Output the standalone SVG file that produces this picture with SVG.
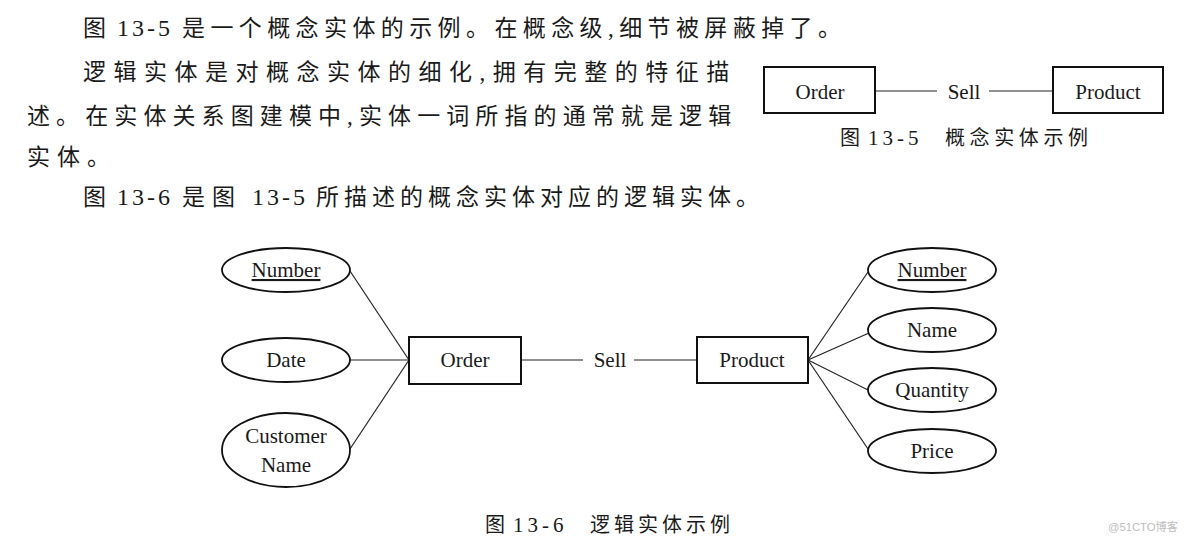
<svg xmlns="http://www.w3.org/2000/svg" width="1184" height="539" viewBox="0 0 1184 539">
<style>
.body{font-family:"Liberation Serif","Noto Sans CJK SC",serif;font-size:23px;fill:#1a1a1a}
.num{font-family:"Liberation Serif",serif;font-size:24px;letter-spacing:3px}
.cap{font-family:"Liberation Serif","Noto Sans CJK SC",serif;font-size:20px;fill:#1a1a1a}
.cnum{font-family:"Liberation Serif",serif;font-size:21px;letter-spacing:4px}
.lbl{font-family:"Liberation Serif","Noto Sans CJK SC",serif;font-size:21px;fill:#1a1a1a;text-anchor:middle}
.box{fill:#fff;stroke:#111;stroke-width:2}
.ell{fill:#fff;stroke:#111;stroke-width:1.8}
.ln{stroke:#222;stroke-width:1.2;fill:none}
.wm{font-family:"Liberation Sans","Noto Sans CJK SC",sans-serif;font-size:11px;fill:#bdbdbd}
</style>
<rect width="1184" height="539" fill="#fff"/>
<g id="body-text">
<text class="body" y="36"><tspan x="83">图</tspan><tspan class="num" x="117">13-5</tspan><tspan x="182" letter-spacing="5.4">是一个概念实体的示例。在概念级,细节被屏蔽掉了。</tspan></text>
<text class="body" x="83" y="80" letter-spacing="7.5">逻辑实体是对概念实体的细化,拥有完整的特征描</text>
<text class="body" x="27" y="124" letter-spacing="6.1">述。在实体关系图建模中,实体一词所指的通常就是逻辑</text>
<text class="body" x="27" y="165" letter-spacing="7">实体。</text>
<text class="body" y="205"><tspan x="83">图</tspan><tspan class="num" x="117">13-6</tspan><tspan x="182" letter-spacing="7">是图</tspan><tspan class="num" x="252">13-5</tspan><tspan x="316" letter-spacing="5">所描述的概念实体对应的逻辑实体。</tspan></text>
</g>
<g id="fig13-5">
<g id="connectors-13-5">
<line class="ln" x1="875" y1="91" x2="937" y2="91"/>
<line class="ln" x1="989" y1="91" x2="1053" y2="91"/>
</g>
<g id="order-a"><rect class="box" x="764" y="67" width="111" height="46"/><text class="lbl" x="820" y="99">Order</text></g>
<g id="sell-a"><text class="lbl" x="964" y="99">Sell</text></g>
<g id="product-a"><rect class="box" x="1053" y="67" width="110" height="46"/><text class="lbl" x="1108" y="99">Product</text></g>
<g id="caption-a">
<text class="cap" y="145"><tspan x="840">图</tspan><tspan class="cnum" x="868">13-5</tspan><tspan x="945" letter-spacing="4.6">概念实体示例</tspan></text>
</g>
</g>
<g id="fig13-6">
<g id="connectors">
<line class="ln" x1="350" y1="271" x2="409" y2="360"/>
<line class="ln" x1="350" y1="360" x2="409" y2="360"/>
<line class="ln" x1="350" y1="449" x2="409" y2="360"/>
<line class="ln" x1="521" y1="360" x2="583" y2="360"/>
<line class="ln" x1="634" y1="360" x2="697" y2="360"/>
<line class="ln" x1="808" y1="360" x2="868" y2="272"/>
<line class="ln" x1="808" y1="360" x2="869" y2="333"/>
<line class="ln" x1="808" y1="360" x2="868" y2="390"/>
<line class="ln" x1="808" y1="360" x2="868" y2="449"/>
</g>
<g id="o-number"><ellipse class="ell" cx="286" cy="270" rx="64" ry="22"/><text class="lbl" x="286" y="277" text-decoration="underline">Number</text></g>
<g id="o-date"><ellipse class="ell" cx="286" cy="360" rx="64" ry="22"/><text class="lbl" x="286" y="367">Date</text></g>
<g id="o-customer"><ellipse class="ell" cx="286" cy="450" rx="64" ry="37"/><text class="lbl" x="286" y="443">Customer</text><text class="lbl" x="286" y="472">Name</text></g>
<g id="order"><rect class="box" x="409" y="337" width="112" height="47"/><text class="lbl" x="465" y="367">Order</text></g>
<g id="sell"><text class="lbl" x="610" y="367">Sell</text></g>
<g id="product"><rect class="box" x="697" y="337" width="111" height="46"/><text class="lbl" x="752" y="367">Product</text></g>
<g id="p-number"><ellipse class="ell" cx="932" cy="270" rx="64" ry="22"/><text class="lbl" x="932" y="277" text-decoration="underline">Number</text></g>
<g id="p-name"><ellipse class="ell" cx="932" cy="330" rx="64" ry="22"/><text class="lbl" x="932" y="337">Name</text></g>
<g id="p-quantity"><ellipse class="ell" cx="932" cy="390" rx="64" ry="22"/><text class="lbl" x="932" y="397">Quantity</text></g>
<g id="p-price"><ellipse class="ell" cx="932" cy="451" rx="64" ry="22"/><text class="lbl" x="932" y="458">Price</text></g>
<g id="caption-b">
<text class="cap" y="532"><tspan x="485">图</tspan><tspan class="cnum" x="513">13-6</tspan><tspan x="590" letter-spacing="4">逻辑实体示例</tspan></text>
</g>
</g>
<text class="wm" x="1108" y="531" textLength="70" lengthAdjust="spacingAndGlyphs">@51CTO博客</text>
</svg>
